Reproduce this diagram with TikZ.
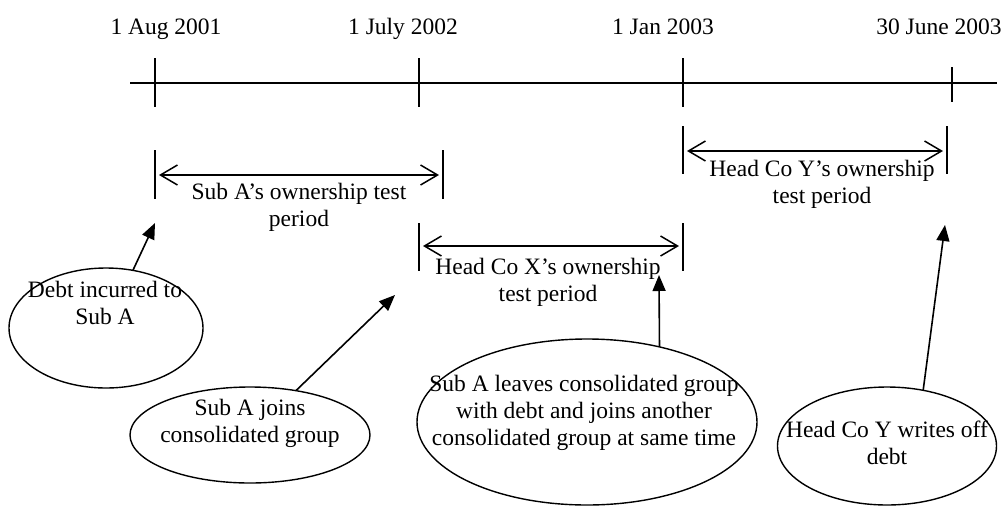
\documentclass[tikz,border=0pt]{standalone}
\usepackage{fontspec}
\setmainfont{Liberation Serif}
\usetikzlibrary{arrows.meta,shapes.geometric}
\begin{document}
\begin{tikzpicture}[x=1pt,y=-1pt,
  txt/.style={inner sep=0pt,align=center,font=\fontsize{23.5}{27}\selectfont},
  axis/.style={line width=1.5pt},
  bar/.style={line width=1.5pt},
  period/.style={line width=1.5pt,{Straight Barb[length=17pt,width=20pt]}-{Straight Barb[length=17pt,width=20pt]}},
  conn/.style={line width=1.6pt,-{Triangle[length=16pt,width=13pt]}},
  oval/.style={ellipse,draw,line width=1.4pt,inner sep=0pt,outer sep=0pt}]
\useasboundingbox (0,0) rectangle (1005,507);
% timeline
\coordinate (tl0) at (130,83);
\coordinate (tl1) at (997,83);
\draw[axis] (tl0) -- (tl1);
\coordinate (k1a) at (155,58); \coordinate (k1b) at (155,107);
\coordinate (k2a) at (419,58); \coordinate (k2b) at (419,107);
\coordinate (k3a) at (683,58); \coordinate (k3b) at (683,107);
\coordinate (k4a) at (952,67); \coordinate (k4b) at (952,102);
\draw[bar] (k1a) -- (k1b);
\draw[bar] (k2a) -- (k2b);
\draw[bar] (k3a) -- (k3b);
\draw[bar] (k4a) -- (k4b);
\node[txt,anchor=base] (d1) at (166,34) {1 Aug 2001};
\node[txt,anchor=base] (d2) at (403,34) {1 July 2002};
\node[txt,anchor=base] (d3) at (663,34) {1 Jan 2003};
\node[txt,anchor=base] (d4) at (939,34) {30 June 2003};
% Sub A period
\coordinate (a1) at (155,150); \coordinate (a2) at (155,199);
\coordinate (a3) at (443,150); \coordinate (a4) at (443,199);
\draw[bar] (a1) -- (a2);
\draw[bar] (a3) -- (a4);
\coordinate (aL) at (159,175); \coordinate (aR) at (439,175);
\draw[period] (aL) -- (aR);
\node[txt] (pA) at (299,207) {Sub A’s ownership test\\period};
% Head Co X period
\coordinate (x1) at (419,223); \coordinate (x2) at (419,271);
\coordinate (x3) at (683,223); \coordinate (x4) at (683,271);
\draw[bar] (x1) -- (x2);
\draw[bar] (x3) -- (x4);
\coordinate (xL) at (423,246); \coordinate (xR) at (679,246);
\draw[period] (xL) -- (xR);
\node[txt] (pX) at (548,282) {Head Co X’s ownership\\test period};
% Head Co Y period
\coordinate (y1) at (683,126); \coordinate (y2) at (683,174);
\coordinate (y3) at (947,126); \coordinate (y4) at (947,174);
\draw[bar] (y1) -- (y2);
\draw[bar] (y3) -- (y4);
\coordinate (yL) at (687,151); \coordinate (yR) at (943,151);
\draw[period] (yL) -- (yR);
\node[txt] (pY) at (822,184) {Head Co Y’s ownership\\test period};
% ellipses
\node[oval,minimum width=194pt,minimum height=120pt] (eA) at (106,328) {};
\node[txt] (tA) at (105,303) {Debt incurred to\\Sub A};
\node[oval,minimum width=240pt,minimum height=96pt] (eB) at (250,435) {};
\node[txt] (tB) at (250,423) {Sub A joins\\consolidated group};
\node[oval,minimum width=340pt,minimum height=166pt] (eC) at (587,422) {};
\node[txt] (tC) at (584,413) {Sub A leaves consolidated group\\with debt and joins another\\consolidated group at same time};
\node[oval,minimum width=219pt,minimum height=118pt] (eD) at (887,446) {};
\node[txt] (tD) at (887,443) {Head Co Y writes off\\debt};
% connectors
\coordinate (hA) at (155,223);
\coordinate (hB) at (395,295);
\coordinate (hC) at (659,275);
\coordinate (hD) at (945,225);
\draw[conn] (eA) -- (hA);
\draw[conn] (eB) -- (hB);
\draw[conn] (eC.46) -- (hC);
\draw[conn] (eD.57) -- (hD);
\end{tikzpicture}
\end{document}
